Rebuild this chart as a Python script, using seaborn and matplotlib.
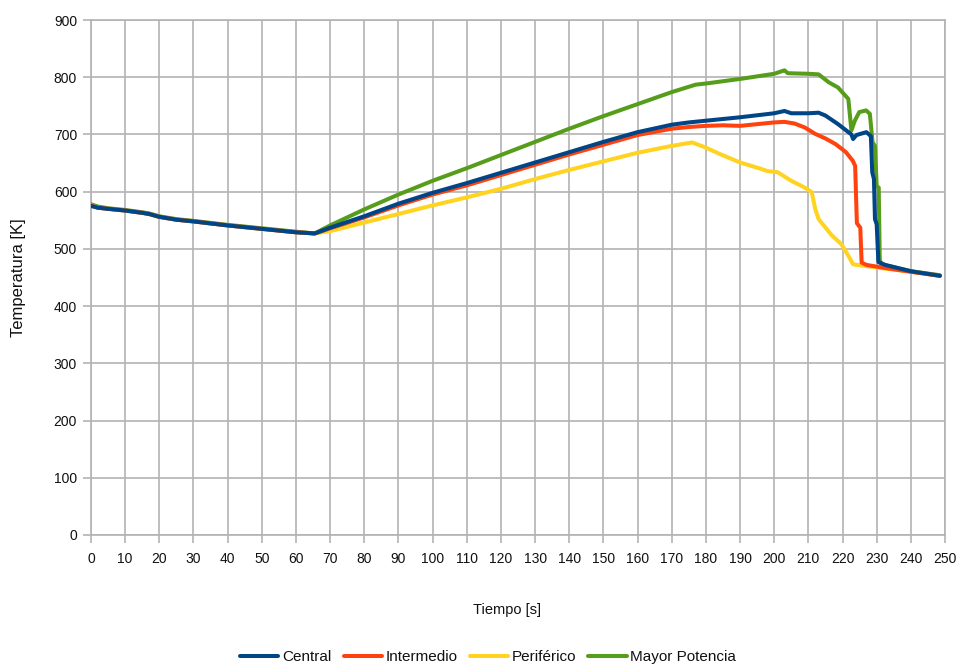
import matplotlib
matplotlib.use("Agg")
import matplotlib.pyplot as plt
import seaborn as sns
import pandas as pd

# Temperature histories [K] against time [s]
series_names = ["Central", "Intermedio", "Periférico", "Mayor Potencia"]

t_central = [0, 2, 5, 10, 15, 17, 20, 25, 30, 40, 50, 60, 65.5, 70, 80, 90, 100, 110, 120, 130,
             140, 150, 160, 170, 175, 180, 190, 200, 203, 205, 210, 213, 215, 218.7, 222.6,
             223.1, 224.1, 227, 228.3, 228.7, 229.2, 229.5, 230.0, 230.5, 232.5, 240, 248.5]
k_central = [575, 572, 570, 567, 563, 561, 556, 551, 548, 541, 535, 529, 527, 537, 557, 579, 598, 615, 633, 651,
             669, 687, 704, 717, 721, 724, 730, 737, 741, 737, 737, 738, 733, 718, 700,
             692, 699, 704, 697, 634, 622, 552, 543, 477, 472, 461, 453]

t_inter = [0, 2, 5, 10, 15, 17, 20, 25, 30, 40, 50, 60, 65.5, 70, 80, 90, 100, 110, 120, 130,
           140, 150, 160, 170, 175, 180, 185, 190, 195, 200, 203, 206, 209, 212, 215, 218, 221,
           223.0, 223.7, 224.2, 225.2, 225.6, 227, 232, 240, 248.5]
k_inter = [576, 572, 570, 567, 563, 561, 556, 551, 548, 541, 535, 529, 527, 536, 555, 576, 595, 611, 629, 647,
           665, 682, 699, 710, 713, 715, 716, 715, 718, 721, 722, 719, 712, 701, 693, 683, 669,
           654, 645, 545, 537, 476, 472, 467, 460, 453]

t_perif = [0, 2, 5, 10, 15, 17, 20, 25, 30, 40, 50, 60, 65.5, 70, 80, 90, 100, 110, 120, 130,
           140, 150, 160, 170, 176, 180, 184, 190, 195, 198, 201, 205, 209, 211, 212, 213, 216.8,
           219.7, 221.7, 223.1, 227, 232, 240, 248.5]
k_perif = [576, 572, 570, 567, 563, 561, 556, 551, 548, 541, 535, 529, 527, 531, 546, 561, 576, 590, 605, 622,
           638, 653, 668, 680, 686, 677, 666, 651, 642, 636, 634, 619, 607, 599, 570, 552, 524,
           508, 488, 473, 470, 466, 460, 453]

t_mayor = [0, 2, 5, 10, 15, 17, 20, 25, 30, 40, 50, 60, 65.5, 70, 80, 90, 100, 110, 120, 130,
           140, 150, 160, 170, 177, 180, 190, 200, 203, 204, 210, 213, 216, 218.7, 221.7, 222.6,
           223.6, 224.9, 226.9, 228.0, 228.8, 229.5, 230.0, 230.6, 230.9, 231.4, 240, 248.5]
k_mayor = [578, 574, 571, 568, 564, 562, 557, 552, 549, 542, 536, 530, 527, 541, 569, 595, 619, 641, 664, 687,
           710, 732, 753, 774, 787, 789, 797, 806, 812, 807, 806, 805, 791, 782, 762, 707,
           724, 739, 742, 736, 686, 680, 610, 607, 481, 473, 461, 454]

x_ticks = list(range(0, 251, 10))
y_ticks = list(range(0, 901, 100))

colors = ["#004586", "#ff420e", "#ffd320", "#579d1c"]

frames = []
for name, t, k in zip(series_names,
                      [t_central, t_inter, t_perif, t_mayor],
                      [k_central, k_inter, k_perif, k_mayor]):
    frames.append(pd.DataFrame({"Tiempo": t, "Temperatura": k, "Serie": name}))
df = pd.concat(frames, ignore_index=True)

sns.set_theme(style="whitegrid")
plt.rcParams["font.family"] = ["Liberation Sans", "DejaVu Sans"]

grid_gray = "#b3b3b3"
line_w = 2.9

fig = plt.figure(figsize=(9.61, 6.66), dpi=100)
ax = fig.add_axes([91 / 961, 1 - 535 / 666, (945 - 91) / 961, (535 - 20) / 666])

sns.lineplot(data=df, x="Tiempo", y="Temperatura", hue="Serie", hue_order=series_names,
             palette=colors, linewidth=line_w, errorbar=None, estimator=None, sort=False,
             legend=False, ax=ax)

# Central series drawn on top, then the others beneath it
for i, line in enumerate(ax.lines):
    line.set_zorder(10 - i)
    line.set_solid_joinstyle("round")
    line.set_solid_capstyle("round")

ax.set_xlim(0, 250)
ax.set_ylim(0, 900)
ax.set_xticks(x_ticks)
ax.set_yticks(y_ticks)
ax.grid(True, color=grid_gray, linewidth=1.2)
ax.set_axisbelow(True)
for side in ["left", "bottom", "top", "right"]:
    ax.spines[side].set_visible(True)
    ax.spines[side].set_color(grid_gray)
    ax.spines[side].set_linewidth(1.2)

ax.tick_params(axis="x", which="major", direction="out", length=6, width=1.2,
               color=grid_gray, pad=6.5, labelsize=10, labelcolor="#111111", bottom=True)
ax.tick_params(axis="y", which="major", direction="out", length=6, width=1.2,
               color=grid_gray, pad=4, labelsize=10, labelcolor="#111111", left=True)

ax.set_xlabel("Tiempo [s]", fontsize=10.5, color="#111111")
ax.set_ylabel("Temperatura [K]", fontsize=12, color="#111111")
ax.xaxis.set_label_coords((507 - 91) / 854, (535 - 603) / 515)
ax.yaxis.set_label_coords((26 - 91) / 854, 0.5)

handles = [plt.Line2D([], [], color=c, linewidth=line_w) for c in colors]
fig.legend(handles, series_names, loc="center", bbox_to_anchor=(0.508, 1 - 657 / 666),
           ncol=4, frameon=False, fontsize=11, handlelength=2.5, handletextpad=0.25,
           columnspacing=0.8, labelcolor="#111111")

fig.savefig("out.png", dpi=100)
